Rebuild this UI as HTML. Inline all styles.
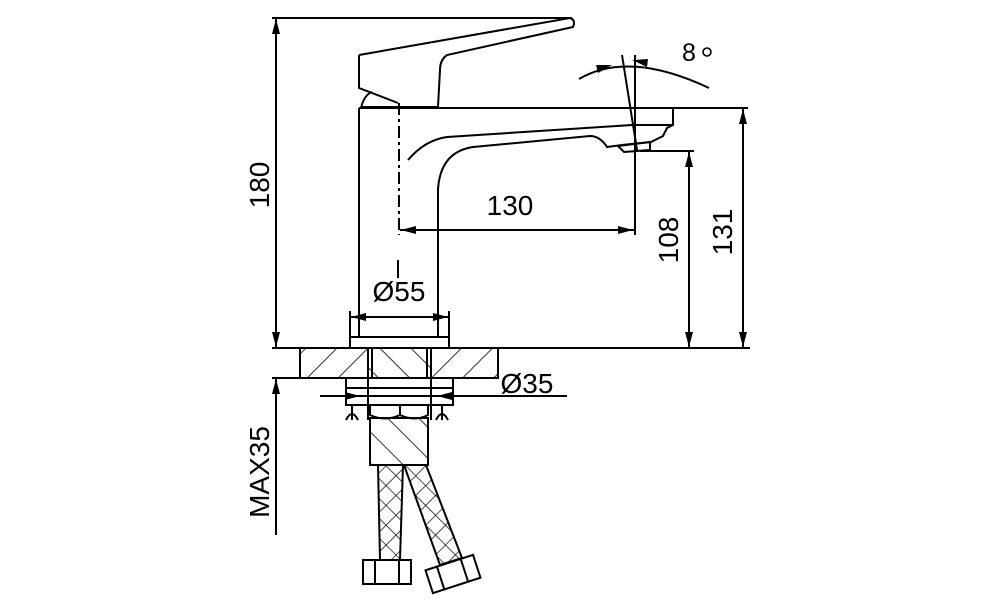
<!DOCTYPE html>
<html><head><meta charset="utf-8"><style>
html,body{margin:0;padding:0;background:#fff;}
svg{display:block}
text{font-family:"Liberation Sans",sans-serif;fill:#000;}
</style></head><body>
<svg width="1000" height="600" viewBox="0 0 1000 600" xmlns="http://www.w3.org/2000/svg">
<defs>
<pattern id="h1" patternUnits="userSpaceOnUse" width="22" height="22" patternTransform="rotate(45)"><line x1="0" y1="0" x2="0" y2="22" stroke="#000" stroke-width="1.6"/></pattern>
<pattern id="h2" patternUnits="userSpaceOnUse" width="22" height="22" patternTransform="rotate(-45)"><line x1="0" y1="0" x2="0" y2="22" stroke="#000" stroke-width="1.6"/></pattern>
<pattern id="x1" patternUnits="userSpaceOnUse" width="14" height="14" patternTransform="rotate(45)"><line x1="0" y1="0" x2="0" y2="14" stroke="#000" stroke-width="1.4"/><line x1="0" y1="0" x2="14" y2="0" stroke="#000" stroke-width="1.4"/></pattern>
</defs>
<g fill="none" stroke="#000" stroke-width="2">
<line x1="272" y1="18" x2="572" y2="18"/>
<line x1="276" y1="18" x2="276" y2="348"/>
<path d="M359,55 L570,18 Q576,20 573,27 L447,55 Q440,60 440,70 L438,107"/>
<path d="M359,55 L359,88 L398,103"/>
<path d="M361,108 Q364,95 372,92"/>
<line x1="361" y1="107" x2="438" y2="107"/>
<line x1="359" y1="108" x2="748" y2="108"/>
<line x1="359" y1="108" x2="359" y2="337"/>
<line x1="438" y1="187" x2="438" y2="337"/>
<path d="M673,108 L673,125 L667,128 L663,136 L651,142 L622,145 L607,147 Q600,136 590,136 L473,147 Q440,152 438,190"/>
<path d="M408,160 Q425,140 447,137 L632,125 L673,125"/>
<path d="M618,146 L650,142 L650,150 L624,152 Z"/>
<line x1="399" y1="103" x2="399" y2="235" stroke-dasharray="12,4,3,4"/>
<line x1="400" y1="230" x2="634" y2="230"/>
<line x1="635" y1="55" x2="635" y2="235"/>
<line x1="622" y1="55" x2="637" y2="150"/>
<path d="M579,79 Q628,50 709,88"/>
<line x1="640" y1="151" x2="694" y2="151"/>
<line x1="689" y1="151" x2="689" y2="348"/>
<line x1="743" y1="108" x2="743" y2="348"/>
<line x1="350" y1="311" x2="350" y2="340"/>
<line x1="449" y1="311" x2="449" y2="340"/>
<line x1="350" y1="317" x2="449" y2="317"/>
<line x1="398" y1="260" x2="398" y2="278"/>
<rect x="350" y="337" width="99" height="11"/>
<line x1="272" y1="348" x2="750" y2="348"/>
<line x1="272" y1="378" x2="300" y2="378"/>
<rect x="300" y="348" width="198" height="30" fill="url(#h1)"/>
<rect x="368" y="348" width="63" height="30" fill="#fff"/>
<rect x="368" y="348" width="63" height="30" fill="url(#h2)"/>
<line x1="372" y1="348" x2="372" y2="378"/><line x1="427" y1="348" x2="427" y2="378"/>
<line x1="320" y1="396" x2="567" y2="396"/>
<rect x="346" y="378" width="107" height="27"/>
<line x1="346" y1="388" x2="453" y2="388"/>
<line x1="368" y1="378" x2="368" y2="420"/><line x1="431" y1="378" x2="431" y2="420"/>
<path d="M346,420 q6,-12 12,0 M352,406 l0,14 M436,420 q6,-12 12,0 M442,406 l0,14"/>
<path d="M370,405 L370,415 Q385,422 400,415 Q415,422 428,415 L428,405"/>
<line x1="400" y1="405" x2="400" y2="415"/>
<rect x="370" y="418" width="58" height="47" fill="url(#h2)"/>
<path d="M378,465 L380,560 L400,560 L403,465 Z" fill="url(#x1)"/>
<path d="M404,465 L440,565 L462,558 L426,465 Z" fill="url(#x1)"/>
<rect x="363" y="560" width="48" height="24" fill="#fff"/>
<line x1="375" y1="560" x2="375" y2="584"/><line x1="399" y1="560" x2="399" y2="584"/>
<g transform="rotate(-18 453 574)"><rect x="428" y="562" width="50" height="24" fill="#fff"/><line x1="440" y1="562" x2="440" y2="586"/><line x1="465" y1="562" x2="465" y2="586"/></g>
<line x1="276" y1="378" x2="276" y2="535"/>
</g>
<g fill="#000">
<path d="M276,19 l-4,15 h8z"/><path d="M276,347 l-4,-15 h8z"/>
<path d="M276,379 l-4,15 h8z"/>
<path d="M401,230 l15,-4 v8z"/><path d="M633,230 l-15,-4 v8z"/>
<path d="M689,152 l-4,15 h8z"/><path d="M689,347 l-4,-15 h8z"/>
<path d="M743,109 l-4,15 h8z"/><path d="M743,347 l-4,-15 h8z"/>
<path d="M351,317 l15,-4 v8z"/><path d="M448,317 l-15,-4 v8z"/>
<path d="M360,396 l-15,-4 v8z"/><path d="M437,396 l15,-4 v8z"/>
<path d="M612,65 l-16,0 l2,8z"/><path d="M632,60 l16,-1 l-1,8z"/>
</g>
<g font-size="28">
<text x="510" y="215" text-anchor="middle">130</text>
<text x="399" y="301" text-anchor="middle">Ø55</text>
<text x="527" y="393" text-anchor="middle">Ø35</text>
<text x="682" y="61" font-size="25">8</text>
<circle cx="707" cy="52" r="4" fill="none" stroke="#000" stroke-width="1.6"/>
<text transform="translate(269,185) rotate(-90)" text-anchor="middle">180</text>
<text transform="translate(678,240) rotate(-90)" text-anchor="middle">108</text>
<text transform="translate(732,232) rotate(-90)" text-anchor="middle">131</text>
<text transform="translate(269,472) rotate(-90)" text-anchor="middle">MAX35</text>
</g>
</svg>
</body></html>
